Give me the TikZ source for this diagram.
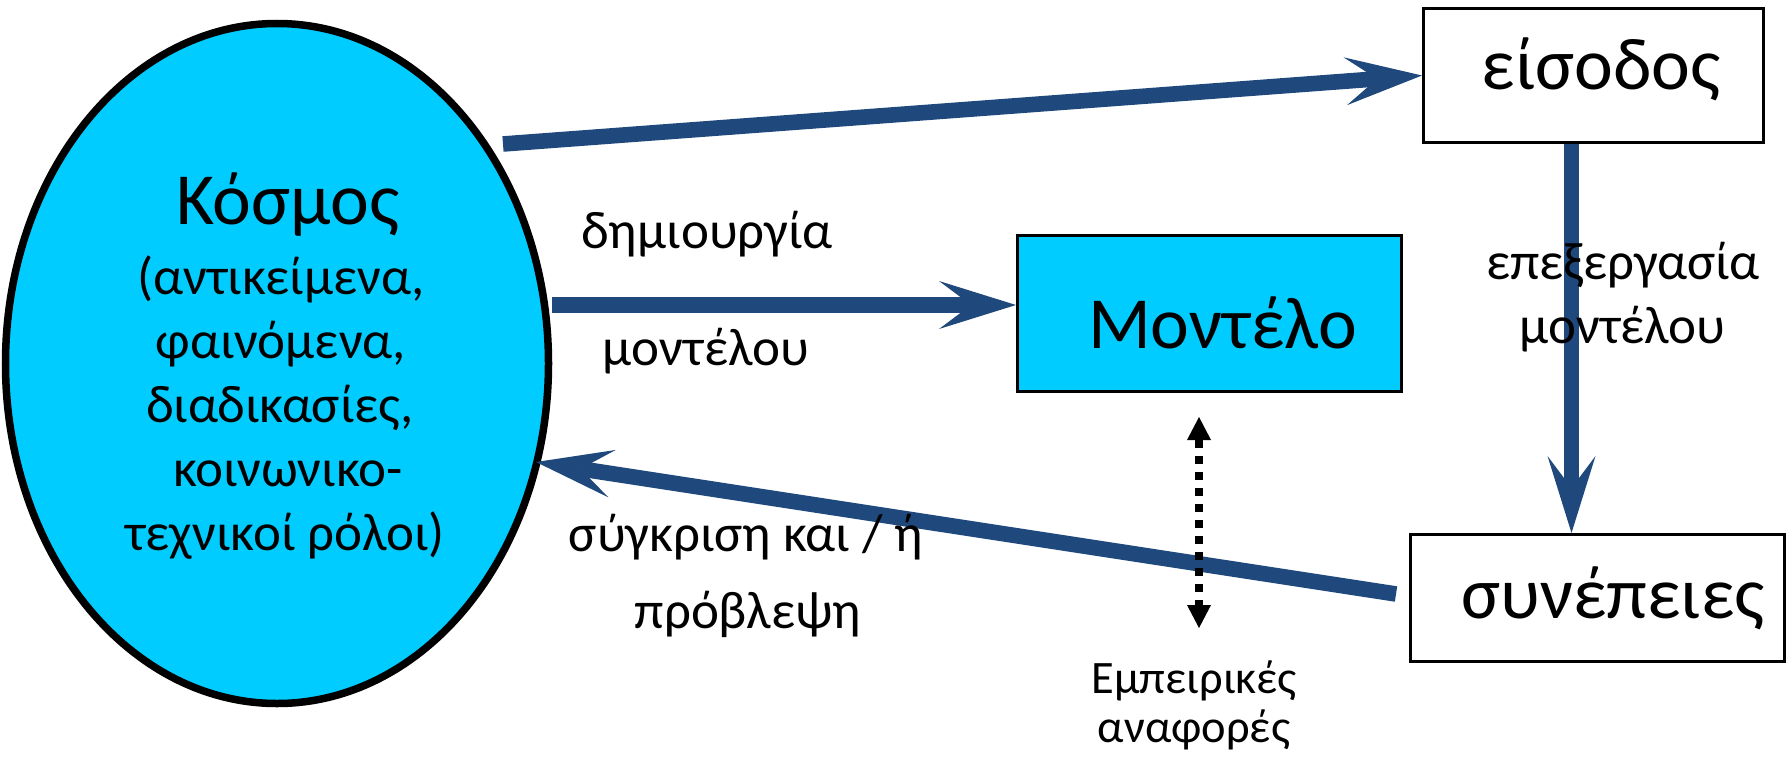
\documentclass[tikz,border=0pt]{standalone}
\usepackage{fontspec}
\setmainfont{Carlito}
\usetikzlibrary{arrows.meta,shapes.geometric}
\definecolor{skyfill}{HTML}{00CCFF}
\definecolor{arrowblue}{HTML}{1F497D}
\begin{document}
\begin{tikzpicture}[x=1pt,y=-1pt,
  bigtxt/.style={font=\fontsize{73.5}{88}\selectfont, anchor=base, inner sep=0pt},
  midtxt/.style={font=\fontsize{53}{64}\selectfont, anchor=base, inner sep=0pt},
  smalltxt/.style={font=\fontsize{46.5}{56}\selectfont, anchor=base, inner sep=0pt},
  boxnode/.style={draw=black, line width=3pt, rectangle, inner sep=0pt},
  flow/.style={draw=arrowblue, line width=15.6pt,
    -{Stealth[length=77pt, width=48pt, inset=32pt, line width=0pt]}},
  dotarrow/.style={draw=black, line width=7.5pt, dash pattern=on 7.5pt off 8.5pt,
    {Triangle[length=23pt, width=24pt, line width=0pt]}-{Triangle[length=23pt, width=24pt, line width=0pt]}}
]
\useasboundingbox (0,0) rectangle (1787,757);

% shapes
\node[ellipse, draw=black, line width=7.5pt, fill=skyfill, inner sep=0pt,
      minimum width=543pt, minimum height=680pt] (kosmos) at (277,363.5) {};
\node[boxnode, minimum width=340pt, minimum height=134pt] (eisodos) at (1593.5,75.5) {};
\node[boxnode, fill=skyfill, minimum width=384pt, minimum height=156pt] (montelo) at (1209.5,313.5) {};
\node[boxnode, minimum width=374pt, minimum height=127pt] (synepeies) at (1597.5,598) {};

% texts in shapes
\node[bigtxt] (t-kosmos) at (288,224) {Κόσμος};
\node[midtxt] (t-k1) at (281,294) {(αντικείμενα,};
\node[midtxt] (t-k2) at (281,358) {φαινόμενα,};
\node[midtxt] (t-k3) at (280,422) {διαδικασίες,};
\node[midtxt] (t-k4) at (288,486) {κοινωνικο-};
\node[midtxt] (t-k5) at (285,550) {τεχνικοί ρόλοι)};
\node[bigtxt] (t-eisodos) at (1601,90) {είσοδος};
\node[bigtxt] (t-montelo) at (1222.5,348) {Μοντέλο};
\node[bigtxt] (t-synepeies) at (1613,618) {συνέπειες};

% connectors
\coordinate (topstart) at (503,144);
\draw[flow] (topstart) -- (eisodos.west);

\coordinate (mtip) at ([yshift=8.5pt]montelo.west);
\draw[flow] (kosmos.east |- mtip) -- (mtip);

\coordinate (vtop) at ([xshift=-22pt]eisodos.south);
\draw[flow] (vtop) -- (vtop |- synepeies.north);

\coordinate (bstart) at (1396,594);
\coordinate (btip) at (536,462);
\draw[flow] (bstart) -- (btip);

\coordinate (dtop) at (1199,417);
\coordinate (dbot) at (1199,628);
\draw[dotarrow] (dtop) -- (dbot);

% labels
\node[midtxt] (l-dim) at (707,248) {δημιουργία};
\node[midtxt] (l-mon) at (706,365) {μοντέλου};
\node[midtxt] (l-epe) at (1623,279) {επεξεργασία};
\node[midtxt] (l-mon2) at (1622.5,343) {μοντέλου};
\node[midtxt] (l-syg) at (746,551) {σύγκριση και / ή};
\node[midtxt] (l-pro) at (748,628) {πρόβλεψη};
\node[smalltxt] (l-emp) at (1194,693) {Εμπειρικές};
\node[smalltxt] (l-ana) at (1194,742) {αναφορές};
\end{tikzpicture}
\end{document}
